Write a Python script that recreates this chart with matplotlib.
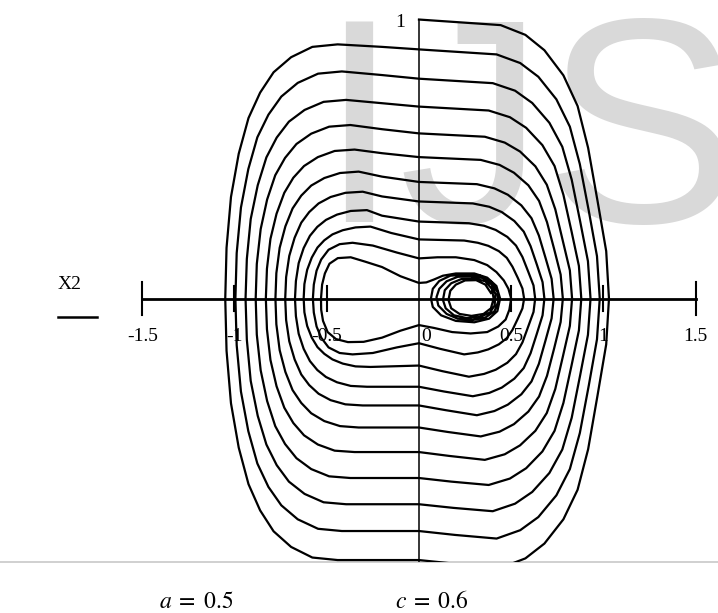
import numpy as np
import matplotlib
matplotlib.use("Agg")
import matplotlib.pyplot as plt

plt.rcParams['mathtext.fontset'] = 'stix'

# --- phase trajectory (x1, x2), one list pair per turn of the spiral ---
loop0_x = [0, 0.443, 0.577, 0.680, 0.783, 0.860, 0.917, 0.968, 1.015, 1.03, 1.015, 0.968, 0.917, 0.860, 0.783, 0.680, 0.577, 0.443, 0.206, 0,
           -0.441, -0.578, -0.693, -0.788, -0.861, -0.924, -0.977, -1.019, -1.043, -1.05, -1.043, -1.019, -0.977, -0.924, -0.861, -0.788, -0.693, -0.578, -0.441, -0.2, 0]
loop0_y = [1.0, 0.98, 0.945, 0.89, 0.80, 0.69, 0.54, 0.35, 0.17, 0, -0.164, -0.347, -0.540, -0.685, -0.791, -0.878, -0.931, -0.965, -0.951, -0.937,
           -0.937, -0.928, -0.890, -0.834, -0.759, -0.665, -0.534, -0.375, -0.187, 0, 0.182, 0.364, 0.519, 0.647, 0.738, 0.811, 0.865, 0.902, 0.911, 0.902, 0.893]

loop1_x = [0, 0.421, 0.549, 0.647, 0.745, 0.818, 0.872, 0.921, 0.965, 0.98, 0.965, 0.921, 0.872, 0.818, 0.745, 0.647, 0.549, 0.421, 0.196, 0,
           -0.418, -0.547, -0.657, -0.746, -0.816, -0.876, -0.925, -0.965, -0.988, -0.995, -0.988, -0.965, -0.925, -0.876, -0.816, -0.746, -0.657, -0.547, -0.418, -0.2, 0]
loop1_y = [0.893, 0.875, 0.844, 0.795, 0.714, 0.616, 0.482, 0.313, 0.152, 0, -0.146, -0.310, -0.482, -0.611, -0.705, -0.783, -0.830, -0.860, -0.847, -0.833,
           -0.833, -0.825, -0.791, -0.741, -0.675, -0.591, -0.475, -0.333, -0.167, 0, 0.163, 0.326, 0.464, 0.578, 0.659, 0.724, 0.773, 0.806, 0.814, 0.801, 0.788]

loop2_x = [0, 0.400, 0.521, 0.614, 0.707, 0.777, 0.828, 0.874, 0.916, 0.93, 0.916, 0.874, 0.828, 0.777, 0.707, 0.614, 0.521, 0.400, 0.186, 0,
           -0.395, -0.517, -0.620, -0.705, -0.771, -0.827, -0.874, -0.912, -0.933, -0.94, -0.933, -0.912, -0.874, -0.827, -0.771, -0.705, -0.620, -0.517, -0.395, -0.2, 0]
loop2_y = [0.788, 0.772, 0.745, 0.701, 0.630, 0.544, 0.426, 0.276, 0.134, 0, -0.130, -0.274, -0.427, -0.541, -0.625, -0.693, -0.735, -0.762, -0.750, -0.737,
           -0.737, -0.730, -0.700, -0.656, -0.597, -0.523, -0.420, -0.295, -0.147, 0, 0.142, 0.285, 0.406, 0.506, 0.577, 0.634, 0.676, 0.705, 0.712, 0.700, 0.688]

loop3_x = [0, 0.378, 0.493, 0.581, 0.669, 0.735, 0.783, 0.827, 0.867, 0.88, 0.867, 0.827, 0.783, 0.735, 0.669, 0.581, 0.493, 0.378, 0.176, 0,
           -0.372, -0.487, -0.584, -0.664, -0.726, -0.779, -0.823, -0.858, -0.879, -0.885, -0.879, -0.858, -0.823, -0.779, -0.726, -0.664, -0.584, -0.487, -0.372, -0.2, 0]
loop3_y = [0.688, 0.674, 0.650, 0.612, 0.550, 0.475, 0.372, 0.241, 0.117, 0, -0.114, -0.240, -0.374, -0.474, -0.548, -0.608, -0.645, -0.668, -0.656, -0.643,
           -0.643, -0.637, -0.611, -0.572, -0.521, -0.457, -0.367, -0.257, -0.129, 0, 0.124, 0.249, 0.355, 0.442, 0.504, 0.554, 0.591, 0.616, 0.622, 0.607, 0.592]

loop4_x = [0, 0.357, 0.465, 0.548, 0.631, 0.693, 0.739, 0.780, 0.818, 0.83, 0.818, 0.780, 0.739, 0.693, 0.631, 0.548, 0.465, 0.357, 0.166, 0,
           -0.349, -0.457, -0.548, -0.623, -0.681, -0.730, -0.772, -0.805, -0.824, -0.83, -0.824, -0.805, -0.772, -0.730, -0.681, -0.623, -0.548, -0.457, -0.349, -0.2, 0]
loop4_y = [0.592, 0.580, 0.559, 0.527, 0.474, 0.408, 0.320, 0.207, 0.101, 0, -0.098, -0.208, -0.324, -0.410, -0.474, -0.526, -0.558, -0.578, -0.564, -0.550,
           -0.550, -0.545, -0.523, -0.490, -0.446, -0.391, -0.314, -0.220, -0.110, 0, 0.107, 0.214, 0.304, 0.379, 0.433, 0.475, 0.507, 0.529, 0.534, 0.521, 0.507]

loop5_x = [0, 0.335, 0.437, 0.515, 0.593, 0.651, 0.694, 0.733, 0.768, 0.78, 0.768, 0.733, 0.694, 0.651, 0.593, 0.515, 0.437, 0.335, 0.156, 0,
           -0.327, -0.428, -0.513, -0.584, -0.638, -0.685, -0.724, -0.755, -0.773, -0.778, -0.773, -0.755, -0.724, -0.685, -0.638, -0.584, -0.513, -0.428, -0.327, -0.2, 0]
loop5_y = [0.507, 0.497, 0.479, 0.451, 0.406, 0.350, 0.274, 0.177, 0.086, 0, -0.084, -0.178, -0.277, -0.351, -0.405, -0.450, -0.477, -0.494, -0.478, -0.462,
           -0.462, -0.457, -0.439, -0.411, -0.374, -0.328, -0.263, -0.185, -0.092, 0, 0.091, 0.182, 0.259, 0.323, 0.369, 0.405, 0.432, 0.450, 0.455, 0.437, 0.418]

loop6_x = [0, 0.314, 0.409, 0.482, 0.555, 0.610, 0.650, 0.686, 0.719, 0.73, 0.719, 0.686, 0.650, 0.610, 0.555, 0.482, 0.409, 0.314, 0.146, 0,
           -0.305, -0.399, -0.479, -0.544, -0.595, -0.638, -0.674, -0.703, -0.720, -0.725, -0.720, -0.703, -0.674, -0.638, -0.595, -0.544, -0.479, -0.399, -0.305, -0.2, 0]
loop6_y = [0.418, 0.410, 0.395, 0.372, 0.334, 0.288, 0.226, 0.146, 0.071, 0, -0.071, -0.150, -0.234, -0.297, -0.343, -0.380, -0.403, -0.418, -0.400, -0.383,
           -0.383, -0.379, -0.364, -0.341, -0.310, -0.272, -0.218, -0.153, -0.077, 0, 0.077, 0.153, 0.218, 0.272, 0.310, 0.341, 0.364, 0.379, 0.383, 0.366, 0.348]

loop7_x = [0, 0.292, 0.381, 0.449, 0.517, 0.568, 0.605, 0.639, 0.670, 0.68, 0.670, 0.639, 0.605, 0.568, 0.517, 0.449, 0.381, 0.292, 0.136, 0,
           -0.282, -0.370, -0.444, -0.504, -0.551, -0.591, -0.625, -0.652, -0.667, -0.672, -0.667, -0.652, -0.625, -0.591, -0.551, -0.504, -0.444, -0.370, -0.282, -0.2, 0]
loop7_y = [0.348, 0.341, 0.329, 0.310, 0.278, 0.240, 0.188, 0.122, 0.059, 0, -0.060, -0.126, -0.196, -0.249, -0.287, -0.319, -0.338, -0.350, -0.333, -0.316,
           -0.316, -0.313, -0.300, -0.281, -0.256, -0.224, -0.180, -0.126, -0.063, 0, 0.063, 0.127, 0.181, 0.225, 0.257, 0.282, 0.301, 0.314, 0.317, 0.297, 0.276]

loop8_x = [0, 0.271, 0.353, 0.416, 0.479, 0.526, 0.561, 0.592, 0.621, 0.63, 0.621, 0.592, 0.561, 0.526, 0.479, 0.416, 0.353, 0.271, 0.126, 0,
           -0.263, -0.344, -0.413, -0.469, -0.513, -0.550, -0.581, -0.606, -0.621, -0.625, -0.621, -0.606, -0.581, -0.550, -0.513, -0.469, -0.413, -0.344, -0.263, -0.15, 0]
loop8_y = [0.276, 0.270, 0.261, 0.246, 0.221, 0.190, 0.149, 0.097, 0.047, 0, -0.048, -0.101, -0.157, -0.199, -0.230, -0.255, -0.270, -0.280, -0.260, -0.240,
           -0.245, -0.243, -0.233, -0.218, -0.198, -0.174, -0.140, -0.098, -0.049, 0, 0.052, 0.103, 0.147, 0.183, 0.209, 0.230, 0.245, 0.255, 0.258, 0.235, 0.212]

loop9_x = [0, 0.245, 0.319, 0.376, 0.433, 0.476, 0.507, 0.536, 0.561, 0.57, 0.561, 0.536, 0.507, 0.476, 0.433, 0.376, 0.319, 0.245, 0.114, 0,
           -0.12, -0.25, -0.36, -0.43, -0.49, -0.53, -0.555, -0.57, -0.575, -0.57, -0.555, -0.53, -0.49, -0.43, -0.36, -0.25, -0.12, 0]
loop9_y = [0.212, 0.208, 0.200, 0.189, 0.170, 0.146, 0.114, 0.074, 0.036, 0, -0.035, -0.072, -0.112, -0.142, -0.164, -0.182, -0.193, -0.200, -0.180, -0.160,
           -0.175, -0.195, -0.2, -0.195, -0.175, -0.14, -0.1, -0.05, 0, 0.05, 0.1, 0.14, 0.175, 0.195, 0.2, 0.19, 0.165, 0.144]

loop10_x = [0, 0.1, 0.2, 0.3, 0.37, 0.42, 0.46, 0.485, 0.5, 0.49, 0.47, 0.43, 0.37, 0.28, 0.18, 0.08, 0,
            -0.1, -0.2, -0.3, -0.385, -0.45, -0.495, -0.52, -0.53, -0.531, -0.525, -0.51, -0.485, -0.44, -0.37, -0.29, -0.2, -0.1, 0]
loop10_y = [0.144, 0.148, 0.148, 0.138, 0.12, 0.095, 0.065, 0.035, 0, -0.04, -0.075, -0.1, -0.12, -0.125, -0.12, -0.105, -0.095,
            -0.115, -0.14, -0.155, -0.156, -0.145, -0.12, -0.08, -0.04, 0, 0.05, 0.09, 0.125, 0.145, 0.148, 0.132, 0.113, 0.08, 0.056]

# settling turns around the right equilibrium
core_x = [0, 0.04, 0.08, 0.13, 0.2, 0.3, 0.37, 0.42, 0.44, 0.425, 0.38, 0.3, 0.2, 0.12, 0.075, 0.065, 0.075, 0.11, 0.17,
          0.25, 0.33, 0.39, 0.425, 0.43, 0.41, 0.36, 0.29, 0.21, 0.15, 0.105, 0.095, 0.11, 0.15, 0.21,
          0.28, 0.345, 0.395, 0.415, 0.41, 0.385, 0.33, 0.26, 0.19, 0.145, 0.13, 0.14, 0.175, 0.23,
          0.3, 0.36, 0.395, 0.405, 0.39, 0.35, 0.285, 0.22, 0.175, 0.16, 0.17, 0.2, 0.25, 0.31, 0.36, 0.39]
core_y = [0.056, 0.058, 0.068, 0.082, 0.09, 0.09, 0.075, 0.045, 0.0, -0.045, -0.072, -0.085, -0.08, -0.06, -0.03, 0.0, 0.035, 0.063, 0.082,
          0.086, 0.082, 0.06, 0.025, -0.01, -0.045, -0.068, -0.077, -0.072, -0.055, -0.025, 0.005, 0.035, 0.062, 0.078,
          0.08, 0.074, 0.05, 0.015, -0.025, -0.05, -0.066, -0.07, -0.06, -0.035, -0.005, 0.03, 0.055, 0.07,
          0.072, 0.062, 0.035, 0.0, -0.035, -0.055, -0.062, -0.055, -0.035, -0.005, 0.028, 0.05, 0.065, 0.066, 0.05, 0.02]

loops_x = [loop0_x, loop1_x, loop2_x, loop3_x, loop4_x, loop5_x, loop6_x, loop7_x, loop8_x, loop9_x, loop10_x, core_x]
loops_y = [loop0_y, loop1_y, loop2_y, loop3_y, loop4_y, loop5_y, loop6_y, loop7_y, loop8_y, loop9_y, loop10_y, core_y]

x_ticks = [-1.5, -1, -0.5, 0, 0.5, 1, 1.5]
x_tick_labels = ["-1.5", "-1", "-0.5", "0", "0.5", "1", "1.5"]
a_value = 0.5
c_value = 0.6

# --- figure: plot area ends at the grey rule, parameters printed underneath ---
fig = plt.figure(figsize=(7.18, 6.13), dpi=100)
ax = fig.add_axes([0, 51 / 613, 1, 562 / 613])
ax.set_xlim(-2.271, 1.621)
ax.set_ylim(-0.944, 1.070)
ax.axis("off")

# journal watermark behind the plot
ax.text(-0.547, 0.274, "IJS", fontsize=210, family="Liberation Sans",
        color="#d9d9d9", ha="left", va="baseline", zorder=0)

traj_x = np.concatenate([np.asarray(lx, dtype=float) for lx in loops_x])
traj_y = np.concatenate([np.asarray(ly, dtype=float) for ly in loops_y])
ax.plot(traj_x, traj_y, color="black", lw=1.6, solid_joinstyle="round", zorder=3)

# axes through the origin
ax.plot([-1.5, 1.5], [0, 0], color="black", lw=2.0, zorder=4)
ax.plot([0, 0], [1.0, -0.944], color="black", lw=1.1, zorder=4)
for t in x_ticks:
    if t == 0:
        continue
    h = 0.06 if abs(t) == 1.5 else 0.045
    ax.plot([t, t], [-h, h], color="black", lw=1.5, zorder=4)

for t, lab in zip(x_ticks, x_tick_labels):
    dx = 0.04 if t == 0 else 0.0
    ax.text(t + dx, -0.135, lab, fontsize=14, family="Liberation Serif",
            ha="center", va="center", zorder=5)
ax.text(-0.103, 0.989, "1", fontsize=14, family="Liberation Serif",
        ha="center", va="center", zorder=5)

# axis name on the left
ax.text(-1.892, 0.052, "X2", fontsize=14, family="Liberation Serif",
        ha="center", va="center")
ax.plot([-1.957, -1.745], [-0.066, -0.066], color="black", lw=1.8)

# grey rule under the plot
ax.axhline(-0.944, color="#c8c8c8", lw=1.2, clip_on=False, zorder=2)

fig.text(0.273, 0.008, rf"$a\;=\;{a_value}$", fontsize=17, ha="center", va="baseline")
fig.text(0.602, 0.008, rf"$c\;=\;{c_value}$", fontsize=17, ha="center", va="baseline")

fig.savefig("out.png", dpi=100)
